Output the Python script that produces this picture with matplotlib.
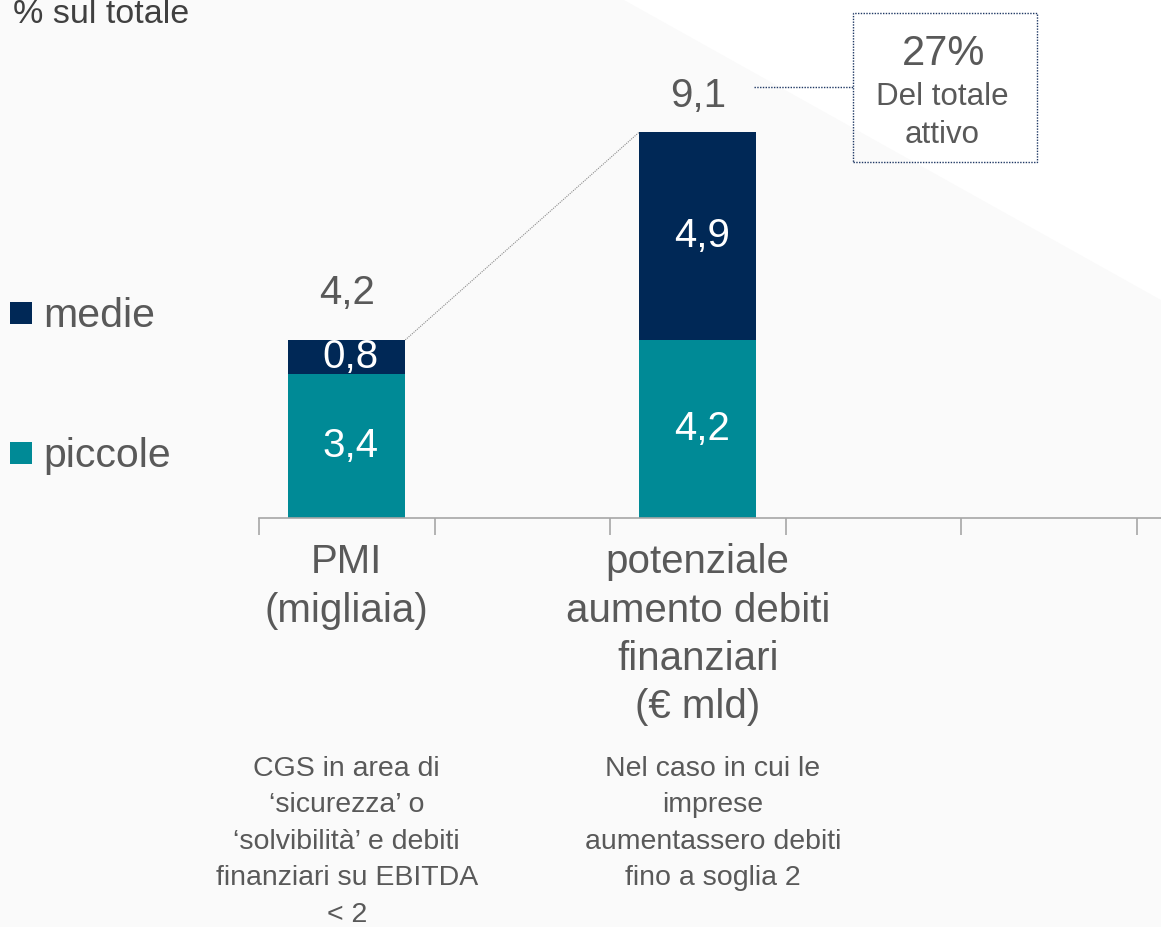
import matplotlib.pyplot as plt
from matplotlib.patches import Polygon, Rectangle
from matplotlib.lines import Line2D
import numpy as np

# --- dati ---
categorie = ["PMI\n(migliaia)", "potenziale\naumento debiti\nfinanziari\n(€ mld)"]
piccole = [3.4, 4.2]
medie = [0.8, 4.9]
totali = [4.2, 9.1]
etichette_piccole = ["3,4", "4,2"]
etichette_medie = ["0,8", "4,9"]
etichette_totali = ["4,2", "9,1"]
note = ["CGS in area di\n\u2018sicurezza\u2019 o\n\u2018solvibilit\u00e0\u2019 e debiti\nfinanziari su EBITDA\n< 2",
        "Nel caso in cui le\nimprese\naumentassero debiti\nfino a soglia 2"]
serie = ["medie", "piccole"]

NAVY = "#002856"
TEAL = "#008A96"
GRIGIO = "#595959"

plt.rcParams['font.family'] = ['Liberation Sans', 'DejaVu Sans']

W, H = 1161, 927
fig = plt.figure(figsize=(W / 100, H / 100), dpi=100, facecolor="#fafafa")

# triangolo bianco in alto a destra
fig.patches.append(Polygon([(624 / W, 1), (1, 1), (1, 1 - 300 / H)],
                           closed=True, transform=fig.transFigure,
                           facecolor="white", edgecolor="none", zorder=0))

ax = fig.add_axes([259 / W, (H - 518) / H, (W - 259) / W, 518 / H])
ax.set_facecolor("none")

x = np.array([0, 2])
larg = 0.667
ax.bar(x, piccole, width=larg, color=TEAL, zorder=2)
ax.bar(x, medie, width=larg, bottom=piccole, color=NAVY, zorder=2)

ax.set_xlim(-0.5, -0.5 + (W - 259) / 175.5)
ax.set_ylim(0, 518 / 42.4)

# etichette nei segmenti
for i in range(len(x)):
    ax.annotate(etichette_piccole[i], (x[i], piccole[i] / 2), xytext=(3, 0),
                textcoords="offset points", ha="center", va="center",
                color="white", fontsize=29)
    ax.annotate(etichette_medie[i], (x[i], piccole[i] + medie[i] / 2), xytext=(3, 0),
                textcoords="offset points", ha="center", va="center",
                color="white", fontsize=29)

pad_tot = [26, 18]
for i in range(len(x)):
    ax.annotate(etichette_totali[i], (x[i], totali[i]), xytext=(0, pad_tot[i]),
                textcoords="offset points", ha="center", va="baseline",
                color=GRIGIO, fontsize=29)

# linea di collegamento tra le barre
ax.plot([x[0] + larg / 2, x[1] - larg / 2], [totali[0], totali[1]],
        color="#8c8c8c", lw=0.8, ls=(0, (1, 1)), zorder=3)

# assi
for s in ["left", "right", "top"]:
    ax.spines[s].set_visible(False)
ax.spines["bottom"].set_color("#a6a6a6")
ax.spines["bottom"].set_linewidth(1.2)
ax.set_yticks([])
ax.set_xticks(x, categorie)
ax.tick_params(axis="x", which="major", length=0, pad=18, labelsize=29,
               labelcolor=GRIGIO)
for lab in ax.get_xticklabels():
    lab.set_linespacing(1.35)
ax.set_xticks(np.arange(-0.5, 4.6, 1), minor=True)
ax.tick_params(axis="x", which="minor", length=12, width=1.2, color="#a6a6a6",
               direction="out")

# note sotto
off_note = [0, 11]
for i in range(len(x)):
    ax.annotate(note[i], (x[i], (518 - 756) / 518), xycoords=ax.get_xaxis_transform(),
                xytext=(off_note[i], 0), textcoords="offset points",
                ha="center", va="top", color=GRIGIO, fontsize=20.5,
                linespacing=1.52, annotation_clip=False)

# riquadro 27%
fig.add_artist(Rectangle((853 / W, 1 - 162 / H), 184 / W, 149 / H,
                         transform=fig.transFigure, fill=False,
                         edgecolor="#1f3864", lw=1, ls=(0, (1, 1))))
fig.add_artist(Line2D([754 / W, 853 / W], [1 - 87 / H, 1 - 87 / H],
                      transform=fig.transFigure, color="#1f3864",
                      lw=1, ls=(0, (1, 1))))
fig.text(944 / W, 1 - 65 / H, "27%", ha="center", va="baseline",
         fontsize=30, color=GRIGIO)
fig.text(942 / W, 1 - 105 / H, "Del totale", ha="center", va="baseline",
         fontsize=22.5, color=GRIGIO)
fig.text(942 / W, 1 - 143 / H, "attivo", ha="center", va="baseline",
         fontsize=22.5, color=GRIGIO)

# legenda
colori = [NAVY, TEAL]
ys = [302, 442]
for nome, c, y in zip(serie, colori, ys):
    fig.add_artist(Rectangle((10 / W, 1 - (y + 22) / H), 22 / W, 22 / H,
                             transform=fig.transFigure, facecolor=c,
                             edgecolor="none"))
    fig.text(43 / W, 1 - (y + 25) / H, nome, ha="left", va="baseline",
             fontsize=29.5, color=GRIGIO)

fig.text(13 / W, 1 - 23 / H, "% sul totale", ha="left", va="baseline",
         fontsize=24.5, color="#404040")

fig.savefig("out.png", dpi=100, facecolor=fig.get_facecolor())
